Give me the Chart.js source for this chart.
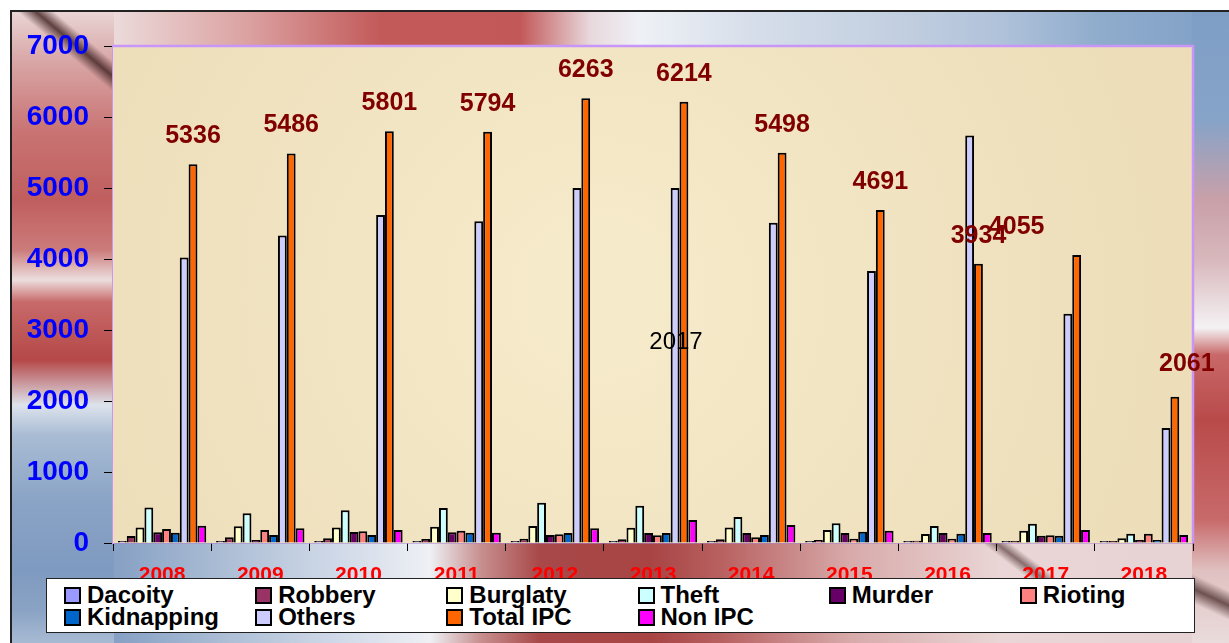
<!DOCTYPE html>
<html lang="en">
<head>
<meta charset="UTF-8">
<title>Crime chart 2008-2018</title>
<script src="https://cdn.jsdelivr.net/npm/chart.js@4.4.0/dist/chart.umd.min.js"></script>
<style>
    body { margin: 0; background: #fff; }
    #wrap { position: relative; width: 1229px; height: 643px; overflow: hidden; background: #fff; }
    .strip { position: absolute; }
    #bgTop { left: 10px; top: 10px; width: 1219px; height: 40px;
        background: linear-gradient(to right, #ecdcdc 0px, #ecdcdc 100px, #dba0a0 240px, #c35a5a 370px, #c25858 510px, #e8d8dc 580px, #eef1f6 630px, #d5dde9 750px, #c2cfe0 890px, #b0c2da 990px, #8faccc 1090px, #7f9fc6 1219px); }
    #bgBottom { left: 10px; top: 540px; width: 1219px; height: 103px;
        background: linear-gradient(to right, #7f9bc1 0px, #88a2c5 110px, #aebfd6 220px, #d4dcea 340px, #eef0f4 420px, #c89090 470px, #a84848 530px, #a84444 640px, #b86060 710px, #d8aaaa 840px, #ead6d6 990px, #e6d2d2 1219px); }
    #bgLeft { left: 10px; top: 10px; width: 104px; height: 633px;
        background: linear-gradient(to bottom, #ead6d6 0px, #d9a7a7 50px, #c97474 120px, #c05e5e 190px, #cc7b7b 240px, #ecdede 270px, #c86a6a 292px, #b54848 350px, #dde3ec 395px, #a9bcd4 425px, #8aa4c6 490px, #7f9ac0 560px, #8aa3c4 600px, #a8bbd4 633px); }
    #bgRight { left: 1192px; top: 10px; width: 37px; height: 633px;
        background: linear-gradient(to bottom, #7f9ec6 0px, #86a3c8 110px, #c9a0a8 190px, #d8b8bc 250px, #f4f2f4 318px, #c86868 345px, #b94a4a 410px, #c86a6a 510px, #e0c0c0 560px, #eadcdc 633px); }
    #streakTL { left: 10px; top: 10px; width: 110px; height: 80px;
        background: linear-gradient(40deg, rgba(70,40,40,0) 49%, rgba(70,40,40,0.85) 58%, rgba(70,40,40,0) 67%); }
    #streakB { left: 985px; top: 543px; width: 70px; height: 40px;
        background: linear-gradient(37deg, rgba(70,40,40,0) 40%, rgba(70,40,40,0.6) 52%, rgba(70,40,40,0) 64%); }
    #streakR { left: 1192px; top: 555px; width: 37px; height: 88px;
        background: linear-gradient(25deg, rgba(70,40,40,0) 38%, rgba(70,40,40,0.75) 52%, rgba(70,40,40,0) 66%); }
    #frame { position: absolute; left: 10px; top: 10px; width: 1229px; height: 643px;
        border-top: 2px solid #222; border-left: 2px solid #222; box-sizing: border-box; }
    #chart { position: absolute; left: 0; top: 0; }
    #legend { position: absolute; left: 46px; top: 578px; width: 1149px; height: 55px;
        box-sizing: border-box; border: 1px solid #222; background: #fff; padding-top: 5px;
        display: grid; grid-template-columns: repeat(6, 1fr); grid-auto-rows: 22px;
        font: bold 24px "Liberation Sans", Arial, sans-serif; color: #000; }
    .item { display: flex; align-items: center; white-space: nowrap; }
    .box { width: 17px; height: 17px; box-sizing: border-box; border: 2px solid #000;
        margin-left: 17px; margin-right: 6px; flex: none; }
</style>
</head>
<body>
<div id="wrap">
    <div class="strip" id="bgTop"></div>
    <div class="strip" id="bgBottom"></div>
    <div class="strip" id="bgRight"></div>
    <div class="strip" id="bgLeft"></div>
    <div class="strip" id="streakTL"></div>
    <div class="strip" id="streakB"></div>
    <div class="strip" id="streakR"></div>
    <div id="frame"></div>
    <canvas id="chart" width="1229" height="643"></canvas>
    <div id="legend"></div>
</div>
<script>
var years = ['2008', '2009', '2010', '2011', '2012', '2013', '2014', '2015', '2016', '2017', '2018'];

var dacoity    = [20, 10, 25, 20, 15, 12, 10, 8, 5, 5, 3];
var robbery    = [100, 80, 66, 56, 61, 52, 52, 42, 33, 28, 20];
var burglaty   = [220, 235, 220, 230, 239, 216, 220, 183, 127, 174, 66];
var theft      = [500, 418, 460, 493, 568, 526, 366, 277, 239, 272, 131];
var murder     = [150, 42, 155, 150, 113, 141, 141, 141, 141, 103, 42];
var rioting    = [197, 183, 165, 174, 122, 108, 80, 61, 61, 108, 131];
var kidnapping = [145, 113, 113, 145, 141, 141, 113, 160, 131, 103, 42];
var others     = [4020, 4330, 4620, 4530, 5000, 5000, 4510, 3830, 5740, 3230, 1620];
var totalIpc   = [5336, 5486, 5801, 5794, 6263, 6214, 5498, 4691, 3934, 4055, 2061];
var nonIpc     = [244, 207, 183, 145, 207, 324, 254, 174, 141, 183, 113];

var yTicks = [0, 1000, 2000, 3000, 4000, 5000, 6000, 7000];

var seriesNames = ['Dacoity', 'Robbery', 'Burglaty', 'Theft', 'Murder', 'Rioting',
                   'Kidnapping', 'Others', 'Total IPC', 'Non IPC'];
var seriesData = [dacoity, robbery, burglaty, theft, murder, rioting,
                  kidnapping, others, totalIpc, nonIpc];
var seriesColors = ['#9999FF', '#993366', '#FFFFCC', '#CCFFFF', '#660066', '#FF8080',
                    '#0066CC', '#CCCCFF', '#FF6600', '#FF00FF'];

// stray text box sitting in the middle of the chart
var strayText = '2017';

var FONT = '"Liberation Sans", Arial, sans-serif';
Chart.defaults.font.family = FONT;

var datasets = [];
for (var i = 0; i < seriesNames.length; i++) {
    datasets.push({
        label: seriesNames[i],
        data: seriesData[i],
        backgroundColor: seriesColors[i],
        borderColor: '#000',
        borderWidth: 2,
        barPercentage: 1,
        categoryPercentage: 0.9,
        minBarLength: 2
    });
}

// parchment plot area + purple frame
var plotBg = {
    id: 'plotBg',
    beforeDatasetsDraw: function(chart) {
        var a = chart.chartArea, ctx = chart.ctx;
        ctx.save();
        ctx.fillStyle = '#F0E2BE';
        ctx.fillRect(a.left, a.top, a.width, a.height);
        var g = ctx.createRadialGradient(a.left + a.width * 0.45, a.top + a.height * 0.5, 50,
                                         a.left + a.width * 0.45, a.top + a.height * 0.5, 700);
        g.addColorStop(0, 'rgba(248,238,208,0.7)');
        g.addColorStop(1, 'rgba(232,214,176,0.5)');
        ctx.fillStyle = g;
        ctx.fillRect(a.left, a.top, a.width, a.height);
        ctx.strokeStyle = '#C896F8';
        ctx.lineWidth = 2.5;
        ctx.beginPath();
        ctx.moveTo(a.left, a.top);
        ctx.lineTo(a.right, a.top);
        ctx.lineTo(a.right, a.bottom);
        ctx.stroke();
        ctx.restore();
    }
};

// value labels on the Total IPC bars (some were nudged by hand in the original)
var totalLabels = {
    id: 'totalLabels',
    afterDatasetsDraw: function(chart, args, opts) {
        var ctx = chart.ctx;
        var meta = chart.getDatasetMeta(8);
        ctx.save();
        ctx.font = 'bold 25px ' + FONT;
        ctx.fillStyle = '#800000';
        ctx.textAlign = 'center';
        ctx.textBaseline = 'middle';
        meta.data.forEach(function(bar, i) {
            var nudge = opts.nudge[i] || [0, 0];
            ctx.fillText(String(totalIpc[i]), bar.x + nudge[0], bar.y - 28 + nudge[1]);
        });
        var xs = chart.scales.x, ys = chart.scales.y;
        ctx.font = '24px ' + FONT;
        ctx.fillStyle = '#000';
        ctx.fillText(strayText, xs.getPixelForValue(5) + 23, ys.getPixelForValue(2820));
        ctx.restore();
    }
};

new Chart(document.getElementById('chart'), {
    type: 'bar',
    data: { labels: years, datasets: datasets },
    plugins: [plotBg, totalLabels],
    options: {
        responsive: false,
        animation: false,
        layout: { padding: { left: 0, top: 46, right: 36, bottom: 0 } },
        plugins: {
            legend: { display: false },
            tooltip: { enabled: false },
            totalLabels: { nudge: { 9: [-60, 0], 10: [12, -5] } }
        },
        scales: {
            x: {
                afterFit: function(s) { s.height = 100; },
                grid: { offset: true, drawOnChartArea: false, color: '#000', tickLength: 8 },
                border: { color: '#A77FD8', width: 1.5 },
                ticks: { color: '#FF0000', font: { size: 21, weight: 'bold' }, padding: 12 }
            },
            y: {
                min: 0,
                max: 7000,
                afterFit: function(s) { s.width = 113; },
                afterBuildTicks: function(s) { s.ticks = yTicks.map(function(v) { return { value: v }; }); },
                grid: { drawOnChartArea: false, color: '#000', tickLength: 9 },
                border: { color: '#C896F8', width: 2.5 },
                ticks: {
                    color: '#0000FF', font: { size: 28, weight: 'bold' }, padding: 15,
                    callback: function(v) { return String(v); }
                }
            }
        }
    }
});

// legend laid out in six equal columns, as in the original
var legend = document.getElementById('legend');
seriesNames.forEach(function(name, i) {
    var item = document.createElement('div');
    item.className = 'item';
    var box = document.createElement('span');
    box.className = 'box';
    box.style.background = seriesColors[i];
    item.appendChild(box);
    item.appendChild(document.createTextNode(name));
    legend.appendChild(item);
});
</script>
</body>
</html>
